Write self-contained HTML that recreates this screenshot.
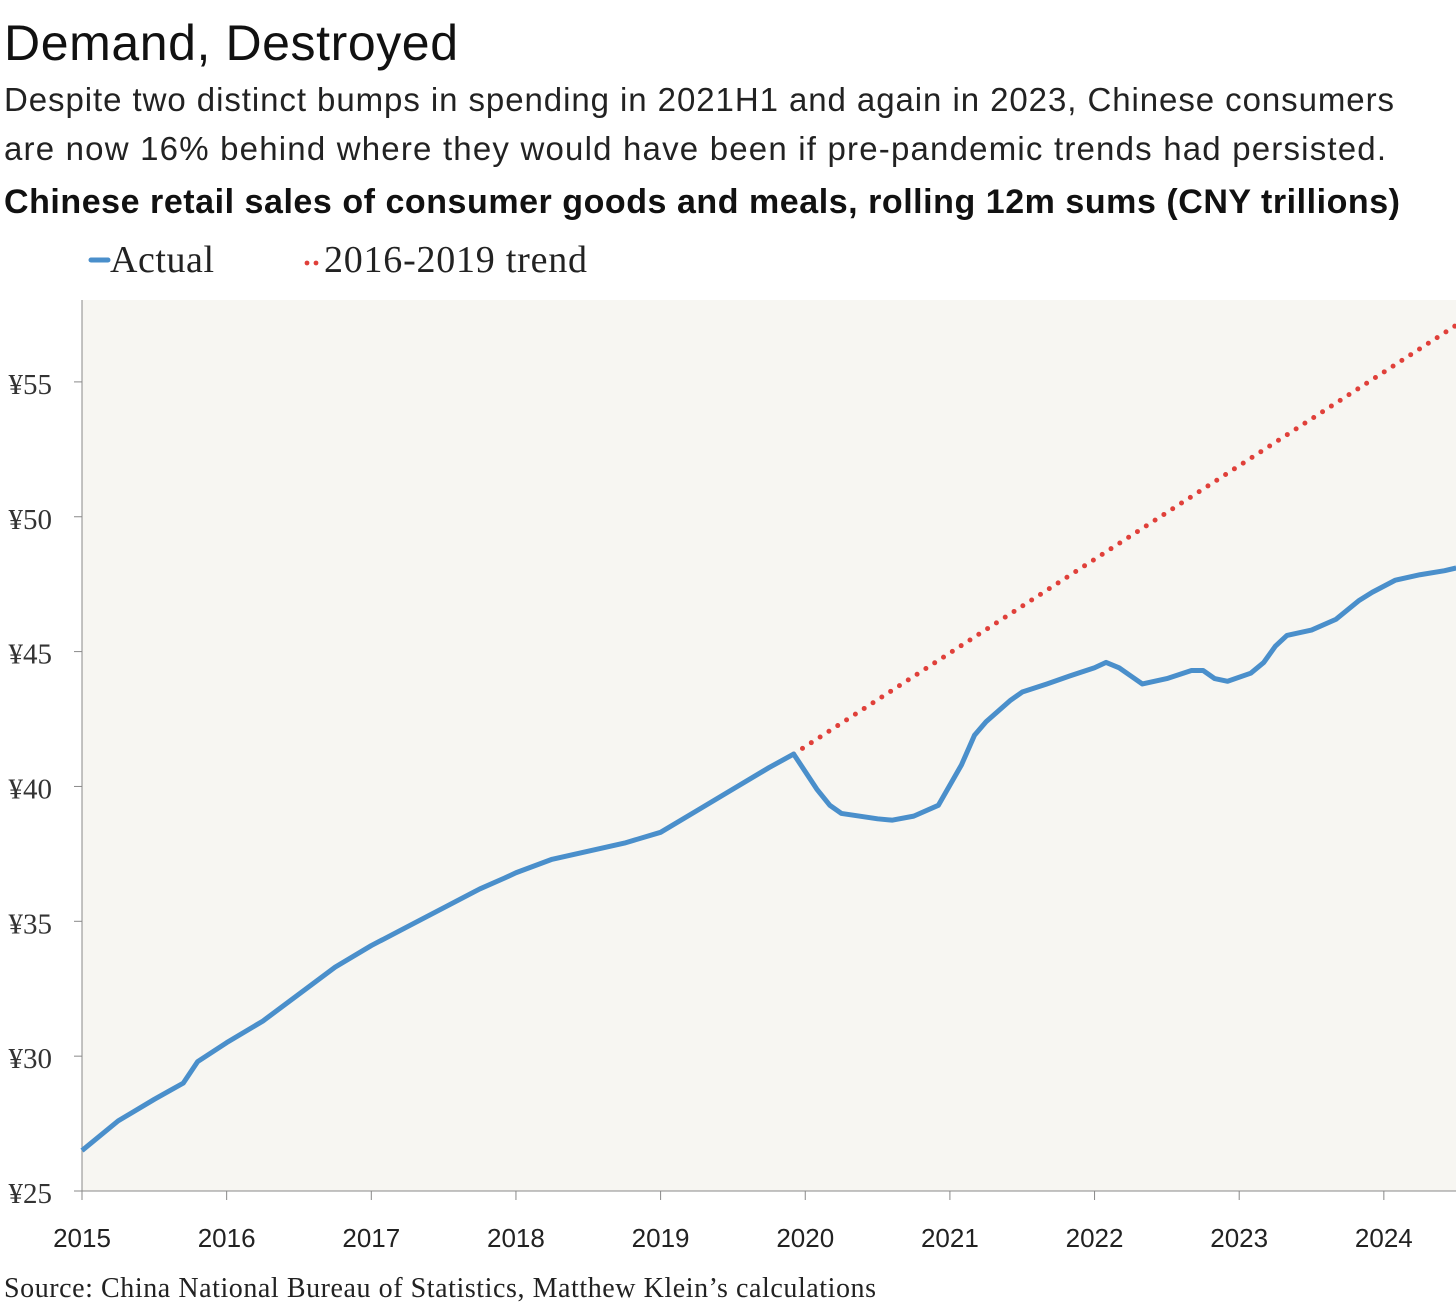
<!DOCTYPE html>
<html><head><meta charset="utf-8"><style>
html,body{margin:0;padding:0;background:#fff;width:1456px;height:1307px;overflow:hidden}
svg{display:block}
.sans{font-family:"Liberation Sans",sans-serif}
.serif{font-family:"Liberation Serif",serif}
</style></head><body>
<svg id="chart" width="1456" height="1307">
<text x="4" y="60" class="sans" font-size="50" fill="#111" textLength="454">Demand, Destroyed</text>
<text x="4" y="111" class="sans" font-size="33" fill="#222" textLength="1390">Despite two distinct bumps in spending in 2021H1 and again in 2023, Chinese consumers</text>
<text x="4" y="160" class="sans" font-size="33" fill="#222" textLength="1382">are now 16% behind where they would have been if pre-pandemic trends had persisted.</text>
<text x="4" y="213" class="sans" font-size="34" font-weight="bold" fill="#111" textLength="1396">Chinese retail sales of consumer goods and meals, rolling 12m sums (CNY trillions)</text>
<g>
<line x1="91" y1="260" x2="108" y2="260" stroke="#4a8fcb" stroke-width="5" stroke-linecap="round"/>
<text x="110" y="272" class="serif" font-size="38" fill="#222" textLength="104">Actual</text>
<circle cx="307" cy="263" r="2.4" fill="#e0403a"/>
<circle cx="316" cy="263" r="2.4" fill="#e0403a"/>
<text x="324" y="272" class="serif" font-size="38" fill="#222" textLength="263">2016-2019 trend</text>
</g>
<rect x="82" y="300" width="1374" height="891" fill="#f7f6f2"/>
<g id="axes"></g>
<g id="marks"></g>
<text x="4" y="1297" class="serif" font-size="28" fill="#222" textLength="872">Source: China National Bureau of Statistics, Matthew Klein’s calculations</text>
</svg>
<script>
const yTicks=[25,30,35,40,45,50,55];
const xTicks=[2015,2016,2017,2018,2019,2020,2021,2022,2023,2024];
const actualT=[2015.0,2015.25,2015.5,2015.6,2015.7,2015.8,2016.0,2016.25,2016.5,2016.75,2017.0,2017.25,2017.5,2017.75,2017.92,2018.0,2018.25,2018.5,2018.75,2019.0,2019.25,2019.5,2019.75,2019.92,2020.08,2020.17,2020.25,2020.5,2020.6,2020.75,2020.92,2021.08,2021.17,2021.25,2021.42,2021.5,2021.67,2021.83,2022.0,2022.08,2022.17,2022.25,2022.33,2022.5,2022.67,2022.75,2022.83,2022.92,2023.08,2023.17,2023.25,2023.33,2023.5,2023.67,2023.83,2023.92,2024.08,2024.25,2024.42,2024.5];
const actualV=[26.5,27.6,28.4,28.7,29.0,29.8,30.5,31.3,32.3,33.3,34.1,34.8,35.5,36.2,36.6,36.8,37.3,37.6,37.9,38.3,39.1,39.9,40.7,41.2,39.9,39.3,39.0,38.8,38.75,38.9,39.3,40.8,41.9,42.4,43.2,43.5,43.8,44.1,44.4,44.6,44.4,44.1,43.8,44.0,44.3,44.3,44.0,43.9,44.2,44.6,45.2,45.6,45.8,46.2,46.9,47.2,47.65,47.85,48.0,48.1];
const trendT=[2019.92,2024.5];
const trendV=[41.2,57.1];
const X=t=>82+(t-2015)*144.65;
const Y=v=>1191-(v-25)*26.97;
const NS="http://www.w3.org/2000/svg";
const axes=document.getElementById('axes'),marks=document.getElementById('marks');
function mk(tag,attrs,parent){const e=document.createElementNS(NS,tag);for(const k in attrs)e.setAttribute(k,attrs[k]);parent.appendChild(e);return e;}
const yl=mk('line',{x1:82,y1:300,x2:82,y2:1191,stroke:'#888','stroke-width':1},axes);


const xl=mk('line',{x1:82,y1:1191,x2:1456,y2:1191,stroke:'#888','stroke-width':1},axes);


yTicks.forEach(v=>{
 const tk=mk('line',{x1:74,y1:Y(v),x2:82,y2:Y(v),stroke:'#888'},axes);
 
 
 const t=mk('text',{x:52,y:Y(v)+12,'text-anchor':'end','font-size':29,fill:'#333','font-family':'Liberation Serif, serif'},axes);
 t.textContent='¥'+v;
 
 
});
xTicks.forEach(v=>{
 const tk=mk('line',{x1:X(v),y1:1191,x2:X(v),y2:1200,stroke:'#888'},axes);
 
 
 const t=mk('text',{x:X(v),y:1247,'text-anchor':'middle','font-size':26,fill:'#222','font-family':'Liberation Sans, sans-serif'},axes);
 t.textContent=v;
 
 
});
const tr=mk('line',{x1:X(trendT[0]),y1:Y(trendV[0]),x2:X(trendT[1]),y2:Y(trendV[1]),stroke:'#e0403a','stroke-width':5,'stroke-dasharray':'0 10.5','stroke-linecap':'round'},marks);


const pl=mk('polyline',{points:actualT.map((t,i)=>X(t)+','+Y(actualV[i])).join(' '),fill:'none',stroke:'#4a8fcb','stroke-width':5,'stroke-linejoin':'round'},marks);


</script>
</body></html>
